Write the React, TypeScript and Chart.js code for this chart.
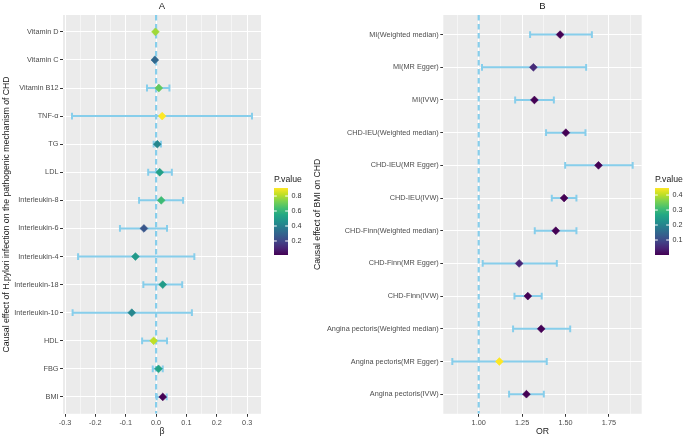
import React, { useEffect, useRef } from 'react';
import { Chart, registerables } from 'chart.js';

Chart.register(...registerables);

// ---------------- Panel A data ----------------
const labelsA = ['Vitamin D', 'Vitamin C', 'Vitamin B12', 'TNF-α', 'TG', 'LDL', 'Interleukin-8', 'Interleukin-6', 'Interleukin-4', 'Interleukin-18', 'Interleukin-10', 'HDL', 'FBG', 'BMI'];
const betaA = [-0.002, -0.004, 0.009, 0.020, 0.004, 0.012, 0.017, -0.040, -0.068, 0.022, -0.080, -0.008, 0.008, 0.022];
const lowerA = [-0.004, -0.006, -0.030, -0.277, -0.008, -0.026, -0.056, -0.119, -0.257, -0.042, -0.275, -0.046, -0.011, 0.002];
const upperA = [0.000, -0.002, 0.044, 0.316, 0.016, 0.052, 0.089, 0.036, 0.126, 0.086, 0.118, 0.036, 0.022, 0.035];
const pA = [0.78, 0.31, 0.69, 0.907, 0.42, 0.52, 0.62, 0.25, 0.49, 0.50, 0.42, 0.82, 0.53, 0.013];
const xTicksA = [-0.3, -0.2, -0.1, 0, 0.1, 0.2, 0.3];
const xTickLabelsA = ['-0.3', '-0.2', '-0.1', '0.0', '0.1', '0.2', '0.3'];
const legendTicksA = [0.2, 0.4, 0.6, 0.8];
const legendLabelsA = ['0.2', '0.4', '0.6', '0.8'];

// ---------------- Panel B data ----------------
const labelsB = ['MI(Weighted median)', 'MI(MR Egger)', 'MI(IVW)', 'CHD-IEU(Weighted median)', 'CHD-IEU(MR Egger)', 'CHD-IEU(IVW)', 'CHD-Finn(Weighted median)', 'CHD-Finn(MR Egger)', 'CHD-Finn(IVW)', 'Angina pectoris(Weighted median)', 'Angina pectoris(MR Egger)', 'Angina pectoris(IVW)'];
const orB = [1.469, 1.315, 1.321, 1.502, 1.690, 1.492, 1.444, 1.233, 1.283, 1.360, 1.119, 1.275];
const lowerB = [1.296, 1.019, 1.210, 1.388, 1.498, 1.421, 1.323, 1.023, 1.206, 1.198, 0.848, 1.175];
const upperB = [1.652, 1.619, 1.433, 1.615, 1.887, 1.563, 1.563, 1.450, 1.363, 1.527, 1.392, 1.375];
const pB = [0.0005, 0.055, 0.00001, 0.0002, 0.001, 0.00001, 0.0001, 0.045, 0.00001, 0.0008, 0.447, 0.00001];
const xTicksB = [1.0, 1.25, 1.5, 1.75];
const xTickLabelsB = ['1.00', '1.25', '1.50', '1.75'];
const legendTicksB = [0.1, 0.2, 0.3, 0.4];
const legendLabelsB = ['0.1', '0.2', '0.3', '0.4'];

// ---------------- styles ----------------
const FONT = "'Liberation Sans', Arial, sans-serif";
const VIRIDIS = ['#440154', '#482475', '#414487', '#355F8D', '#2A788E', '#21918C', '#22A884', '#44BF70', '#7AD151', '#BDDF26', '#FDE725'];
const BAR_COLOR = '#87CEEB';
const W = 685;
const H = 439;

function hexToRgb(h: string) {
  const n = parseInt(h.slice(1), 16);
  return [(n >> 16) & 255, (n >> 8) & 255, n & 255];
}
function viridis(t: number) {
  t = Math.max(0, Math.min(1, t));
  const s = t * (VIRIDIS.length - 1);
  const i = Math.min(Math.floor(s), VIRIDIS.length - 2);
  const f = s - i;
  const a = hexToRgb(VIRIDIS[i]);
  const b = hexToRgb(VIRIDIS[i + 1]);
  const c = a.map((v, k) => Math.round(v + (b[k] - v) * f));
  return `rgb(${c[0]},${c[1]},${c[2]})`;
}

type Panel = {
  title: string;
  labels: string[];
  est: number[];
  lower: number[];
  upper: number[];
  p: number[];
  ref: number;
  xTicks: number[];
  xTickLabels: string[];
  legendTicks: number[];
  legendLabels: string[];
  xTitle: string;
  yTitle: string;
  layout: { padLeft: number; yAxisWidth: number; right: number; top: number; bottom: number; legendX: number };
};

const panelA: Panel = {
  title: 'A',
  labels: labelsA,
  est: betaA,
  lower: lowerA,
  upper: upperA,
  p: pA,
  ref: 0,
  xTicks: xTicksA,
  xTickLabels: xTickLabelsA,
  legendTicks: legendTicksA,
  legendLabels: legendLabelsA,
  xTitle: 'β',
  yTitle: 'Causal effect of H.pylori infection on the pathogenic mechanism of CHD',
  layout: { padLeft: 0, yAxisWidth: 63, right: 261, top: 15, bottom: 413.8, legendX: 274 },
};

const panelB: Panel = {
  title: 'B',
  labels: labelsB,
  est: orB,
  lower: lowerB,
  upper: upperB,
  p: pB,
  ref: 1,
  xTicks: xTicksB,
  xTickLabels: xTickLabelsB,
  legendTicks: legendTicksB,
  legendLabels: legendLabelsB,
  xTitle: 'OR',
  yTitle: 'Causal effect of BMI on CHD',
  layout: { padLeft: 311, yAxisWidth: 132.3, right: 641.7, top: 15, bottom: 413.8, legendX: 655 },
};

function makeChart(canvas: HTMLCanvasElement, panel: Panel) {
  const n = panel.labels.length;
  const lo = Math.min(...panel.lower);
  const hi = Math.max(...panel.upper);
  const expand = (hi - lo) * 0.05;
  const xmin = lo - expand;
  const xmax = hi + expand;
  const step = panel.xTicks[1] - panel.xTicks[0];
  const ticks: { value: number; mj: boolean }[] = panel.xTicks.map((v) => ({ value: v, mj: true }));
  const cand = [panel.xTicks[0] - step / 2, ...panel.xTicks.map((v) => v + step / 2)];
  cand.forEach((v) => {
    if (v > xmin && v < xmax) ticks.push({ value: v, mj: false });
  });
  ticks.sort((a, b) => a.value - b.value);

  const pmin = Math.min(...panel.p);
  const pmax = Math.max(...panel.p);
  const colors = panel.p.map((p) => viridis((p - pmin) / (pmax - pmin)));
  const L = panel.layout;

  const plugin = {
    id: 'forest' + panel.title,
    beforeDraw(chart: any) {
      const { ctx, chartArea: a } = chart;
      ctx.save();
      ctx.fillStyle = '#EBEBEB';
      ctx.fillRect(a.left, a.top, a.right - a.left, a.bottom - a.top);
      ctx.restore();
    },
    beforeDatasetsDraw(chart: any) {
      const { ctx, chartArea: a } = chart;
      const xs = chart.scales.x;
      const ys = chart.scales.y;
      ctx.save();
      ctx.beginPath();
      ctx.rect(a.left, a.top, a.right - a.left, a.bottom - a.top);
      ctx.clip();
      // reference line
      const rx = xs.getPixelForValue(panel.ref);
      ctx.strokeStyle = BAR_COLOR;
      ctx.lineWidth = 2.2;
      ctx.setLineDash([5.5, 3.5]);
      ctx.beginPath();
      ctx.moveTo(rx, a.top);
      ctx.lineTo(rx, a.bottom);
      ctx.stroke();
      ctx.setLineDash([]);
      // error bars
      ctx.lineWidth = 2;
      ctx.strokeStyle = BAR_COLOR;
      const cap = 3.4;
      for (let i = 0; i < n; i++) {
        const y = ys.getPixelForValue(i);
        const x1 = xs.getPixelForValue(panel.lower[i]);
        const x2 = xs.getPixelForValue(panel.upper[i]);
        ctx.beginPath();
        ctx.moveTo(x1, y);
        ctx.lineTo(x2, y);
        ctx.moveTo(x1, y - cap);
        ctx.lineTo(x1, y + cap);
        ctx.moveTo(x2, y - cap);
        ctx.lineTo(x2, y + cap);
        ctx.stroke();
      }
      ctx.restore();
    },
    afterDraw(chart: any) {
      const { ctx, chartArea: a } = chart;
      ctx.save();
      // panel title
      ctx.fillStyle = '#1A1A1A';
      ctx.font = `9.5px ${FONT}`;
      ctx.textAlign = 'center';
      ctx.textBaseline = 'middle';
      ctx.fillText(panel.title, (a.left + a.right) / 2, 6.5);
      // colour bar legend
      const bx = L.legendX;
      const bw = 14;
      const bTop = 188;
      const bBot = 255;
      ctx.textAlign = 'left';
      ctx.font = `8.7px ${FONT}`;
      ctx.fillText('P.value', bx, 180);
      const g = ctx.createLinearGradient(0, bBot, 0, bTop);
      VIRIDIS.forEach((c, k) => g.addColorStop(k / (VIRIDIS.length - 1), c));
      ctx.fillStyle = g;
      ctx.fillRect(bx, bTop, bw, bBot - bTop);
      ctx.strokeStyle = '#FFFFFF';
      ctx.lineWidth = 1;
      ctx.font = `7.2px ${FONT}`;
      ctx.fillStyle = '#333333';
      panel.legendTicks.forEach((v, k) => {
        const y = bBot - ((v - pmin) / (pmax - pmin)) * (bBot - bTop);
        ctx.beginPath();
        ctx.moveTo(bx, y);
        ctx.lineTo(bx + bw / 5, y);
        ctx.moveTo(bx + bw - bw / 5, y);
        ctx.lineTo(bx + bw, y);
        ctx.stroke();
        ctx.fillText(panel.legendLabels[k], bx + bw + 3.5, y);
      });
      ctx.restore();
    },
  };

  const tickLabel = (v: number) => {
    const k = panel.xTicks.findIndex((t) => Math.abs(t - v) < 1e-9);
    return k >= 0 ? panel.xTickLabels[k] : '';
  };

  return new Chart(canvas, {
    type: 'scatter',
    data: {
      datasets: [
        {
          data: panel.est.map((x, i) => ({ x, y: i })),
          pointStyle: 'rectRot',
          pointRadius: 3.9,
          pointBackgroundColor: colors,
          pointBorderColor: colors,
          pointBorderWidth: 0.6,
        },
      ],
    },
    options: {
      responsive: false,
      animation: false,
      devicePixelRatio: 1,
      events: [],
      layout: { padding: { left: L.padLeft, right: W - L.right, top: L.top, bottom: 0 } },
      plugins: { legend: { display: false }, tooltip: { enabled: false }, title: { display: false } },
      scales: {
        x: {
          type: 'linear',
          position: 'bottom',
          min: xmin,
          max: xmax,
          bounds: 'data',
          afterBuildTicks: (scale: any) => {
            scale.ticks = ticks.map((t) => ({ ...t }));
          },
          afterFit: (scale: any) => {
            scale.height = H - L.bottom;
          },
          border: { display: false },
          grid: {
            color: '#FFFFFF',
            lineWidth: (c: any) => (c.tick && c.tick.mj === false ? 0.5 : 1),
            tickColor: (c: any) => (c.tick && c.tick.mj === false ? 'rgba(0,0,0,0)' : '#333333'),
            tickLength: 3,
            tickWidth: 1,
          },
          ticks: {
            autoSkip: false,
            maxRotation: 0,
            minRotation: 0,
            padding: 1.5,
            color: '#4D4D4D',
            font: { family: FONT, size: 7.3 },
            callback: (v: any, i: number, arr: any[]) => (arr[i] && arr[i].mj ? tickLabel(Number(v)) : ''),
          },
          title: {
            display: true,
            text: panel.xTitle,
            color: '#1A1A1A',
            font: { family: FONT, size: 8.7 },
            padding: { top: 0, bottom: 2 },
          },
        },
        y: {
          type: 'linear',
          position: 'left',
          reverse: true,
          min: -0.6,
          max: n - 1 + 0.6,
          bounds: 'data',
          afterBuildTicks: (scale: any) => {
            scale.ticks = panel.labels.map((_, i) => ({ value: i }));
          },
          afterFit: (scale: any) => {
            scale.width = L.yAxisWidth;
          },
          border: { display: false },
          grid: {
            color: '#FFFFFF',
            lineWidth: 1,
            tickColor: '#333333',
            tickLength: 3,
            tickWidth: 1,
          },
          ticks: {
            autoSkip: false,
            padding: 1.5,
            color: '#4D4D4D',
            font: { family: FONT, size: 7.3 },
            callback: (v: any) => panel.labels[Math.round(Number(v))] ?? '',
          },
          title: {
            display: true,
            text: panel.yTitle,
            color: '#1A1A1A',
            font: { family: FONT, size: 8.7 },
            padding: { top: 1.8, bottom: 0 },
          },
        },
      },
    } as any,
    plugins: [plugin],
  });
}

export default function App() {
  const refA = useRef<HTMLCanvasElement>(null);
  const refB = useRef<HTMLCanvasElement>(null);
  useEffect(() => {
    const a = makeChart(refA.current as HTMLCanvasElement, panelA);
    const b = makeChart(refB.current as HTMLCanvasElement, panelB);
    return () => {
      a.destroy();
      b.destroy();
    };
  }, []);
  return (
    <div style={{ position: 'fixed', left: 0, top: 0, width: W, height: H, background: '#FFFFFF', overflow: 'hidden' }}>
      <canvas ref={refA} width={W} height={H} style={{ position: 'absolute', left: 0, top: 0 }} />
      <canvas ref={refB} width={W} height={H} style={{ position: 'absolute', left: 0, top: 0 }} />
    </div>
  );
}
